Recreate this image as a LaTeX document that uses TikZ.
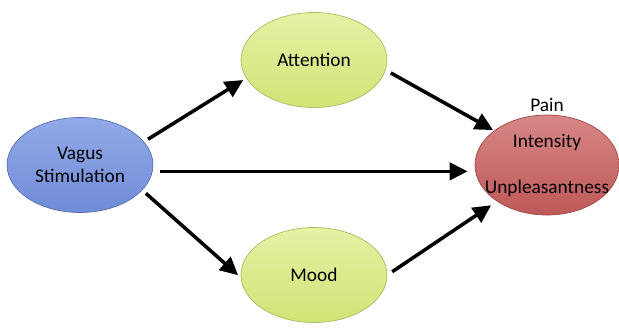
\documentclass[tikz,border=0pt]{standalone}
\usepackage{fontspec}
\setmainfont{Carlito}
\usepackage{xcolor}
\usetikzlibrary{arrows.meta,shapes.geometric,positioning}
\definecolor{vagusblue}{RGB}{112,140,215}
\definecolor{vagustop}{RGB}{145,170,232}
\definecolor{vagusline}{RGB}{88,112,178}
\definecolor{moodgreen}{RGB}{208,228,118}
\definecolor{moodtop}{RGB}{228,242,165}
\definecolor{moodline}{RGB}{168,190,92}
\definecolor{painred}{RGB}{190,88,88}
\definecolor{paintop}{RGB}{215,135,135}
\definecolor{painline}{RGB}{160,70,70}

\begin{document}
\begin{tikzpicture}[x=0.03cm, y=-0.03cm,
    bubble/.style={ellipse, draw, line width=0.6pt, minimum width=4.38cm, minimum height=2.85cm, inner sep=0pt, align=center, font=\fontsize{16.5}{20}\selectfont},
    arrow/.style={-{Triangle[length=5.4mm, width=5.2mm]}, line width=3pt}
]
    \useasboundingbox (0,0) rectangle (619,328);

    \node[bubble, draw=vagusline, top color=vagustop, bottom color=vagusblue] (vagus) at (80,165) {Vagus\\Stimulation};
    \node[bubble, draw=moodline, top color=moodtop, bottom color=moodgreen] (attention) at (314,60) {Attention};
    \node[bubble, draw=moodline, top color=moodtop, bottom color=moodgreen] (mood) at (314,275) {Mood};
    \node[bubble, draw=painline, top color=paintop, bottom color=painred, minimum width=4.32cm, minimum height=3cm] (pain) at (547,165) {};
    \node[font=\fontsize{16.5}{20}\selectfont] (intensity) at (547,142) {Intensity};
    \node[font=\fontsize{16.5}{20}\selectfont] (unpleasant) at (547,188) {Unpleasantness};
    \node[font=\fontsize{16.5}{20}\selectfont, above=-1pt of pain] (painlabel) {Pain};

    \draw[arrow, shorten <=4pt, shorten >=3pt] (vagus.20) -- (attention.195);
    \draw[arrow, shorten <=5pt, shorten >=1pt] (attention.-8) -- (pain.147);
    \draw[arrow, shorten <=6pt, shorten >=6pt] (vagus.-5) -- (vagus.-5 -| pain.west);
    \draw[arrow, shorten <=4pt, shorten >=3pt] (vagus.-22) -- (mood.182);
    \draw[arrow, shorten <=5pt, shorten >=6pt] (mood.0) -- (pain.216);
\end{tikzpicture}
\end{document}
